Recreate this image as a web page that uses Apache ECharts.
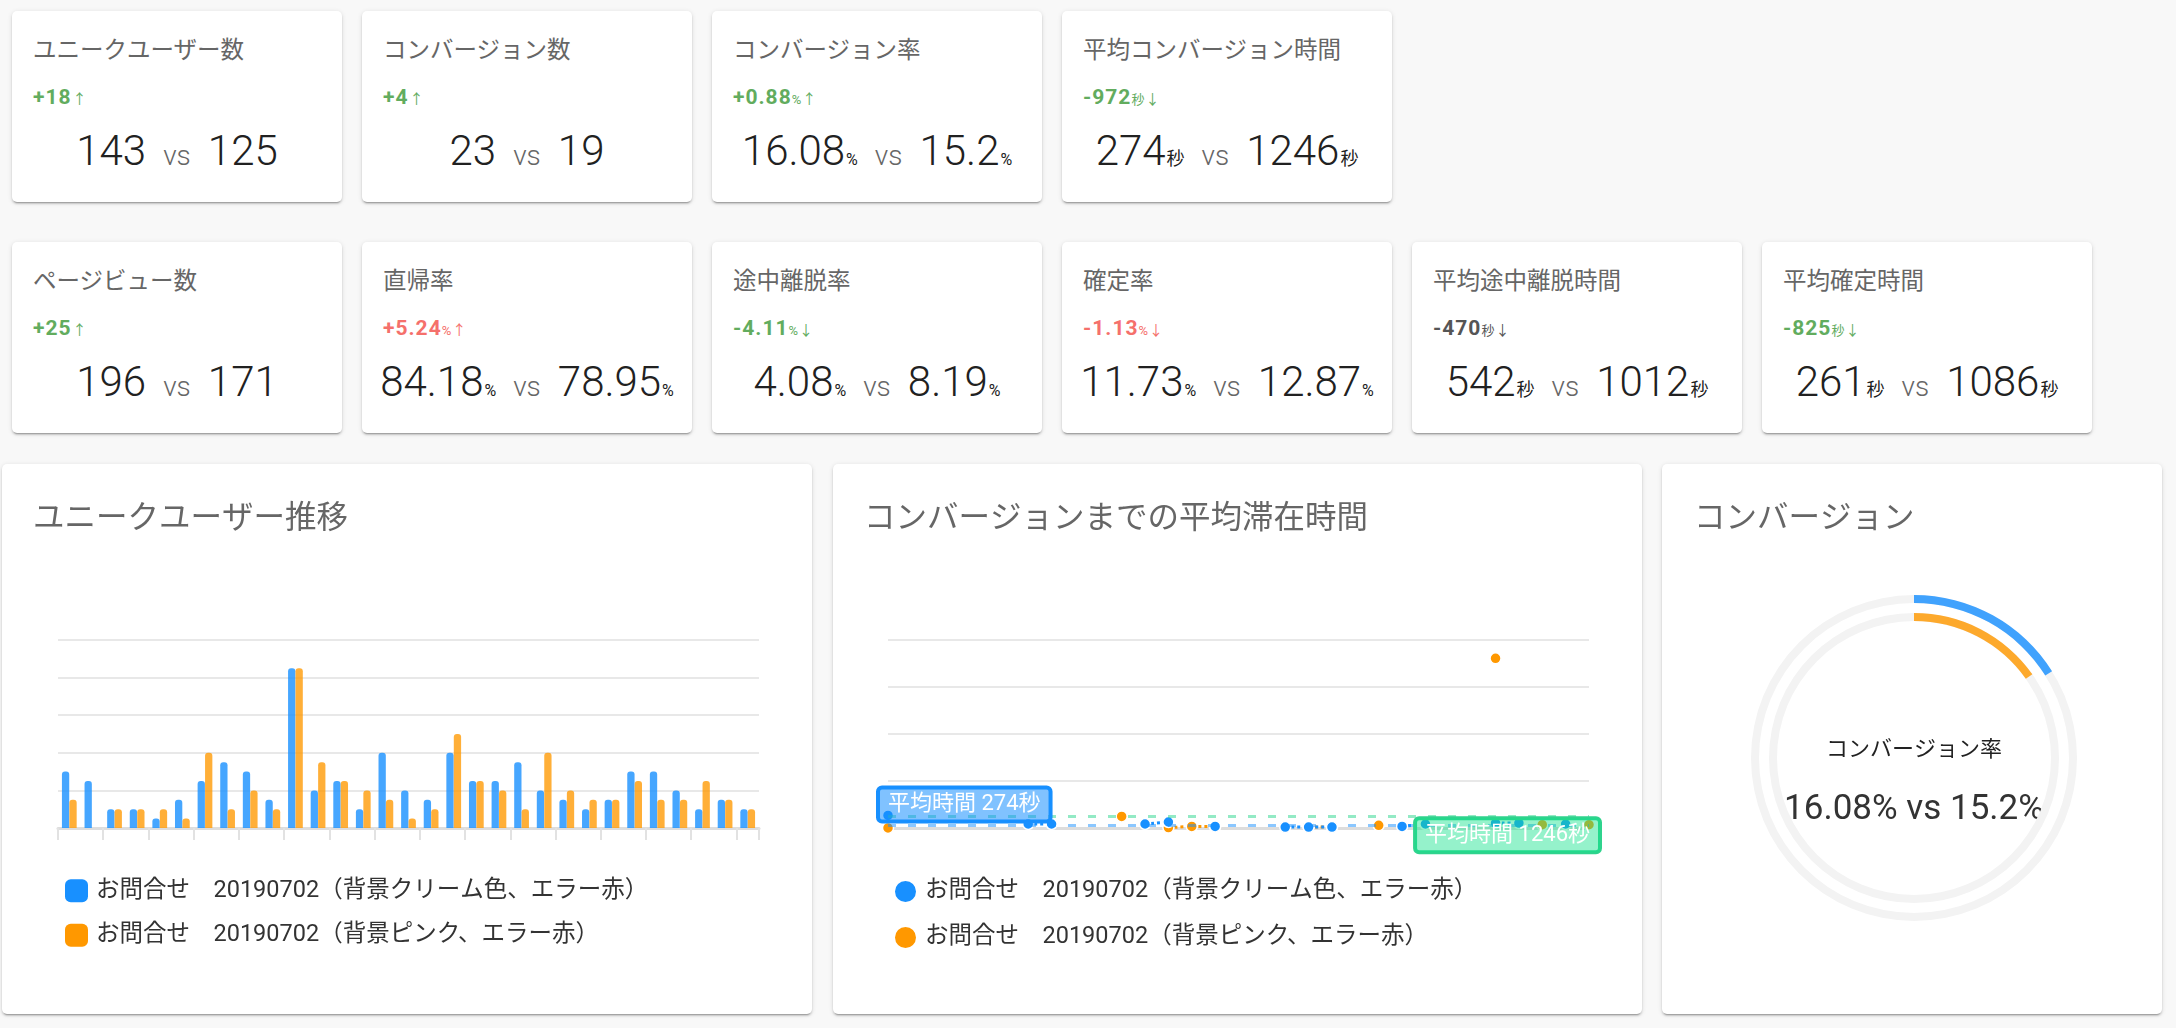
<!DOCTYPE html>
<html><head><meta charset="utf-8">
<script src="https://cdn.jsdelivr.net/npm/echarts/dist/echarts.min.js"></script>
<style>
html,body{margin:0;padding:0;background:#f8f8f8;width:2176px;height:1028px;overflow:hidden;font-family:Roboto,"Noto Sans CJK JP",sans-serif;}
.card{position:absolute;background:#fff;border-radius:5px;box-shadow:0 3px 1px -2px rgba(0,0,0,.2),0 2px 2px 0 rgba(0,0,0,.14),0 1px 5px 0 rgba(0,0,0,.12);}
.kpi{width:330px;height:191px;}
.kpi .t{position:absolute;left:21px;top:24px;font-size:23.5px;line-height:30px;color:#666;white-space:nowrap;}
.kpi .d{position:absolute;left:21px;top:74px;font-size:21px;line-height:24px;font-weight:700;letter-spacing:1px;white-space:nowrap;}
.kpi .d .u{font-size:13px;font-weight:400;letter-spacing:0;}
.kpi .d .a{font-size:14px;font-weight:400;letter-spacing:0;margin-left:1px;}
.good{color:#62ac5e}.bad{color:#f5706b}.neutral{color:#555}
.kpi .m{position:absolute;left:0;top:115px;width:100%;display:flex;justify-content:center;align-items:baseline;line-height:50px;white-space:nowrap;color:#212121;}
.kpi .m .n{font-size:42px;font-weight:300;}
.kpi .m .pu{font-size:16px;font-weight:400;margin-left:1px;}
.kpi .m .su{font-size:18px;font-weight:400;margin-left:1px;}
.kpi .m .vs{font-size:28px;font-weight:300;color:#666;margin:0 17px;}
.chart{position:absolute;left:0;top:0;width:100%;height:100%;}
</style></head>
<body>
<div id="kpis"></div>
<div class="card" style="left:2px;top:464px;width:810px;height:550px;"><div id="c1" class="chart"></div></div>
<div class="card" style="left:833px;top:464px;width:809px;height:550px;"><div id="c2" class="chart"></div></div>
<div class="card" style="left:1662px;top:464px;width:500px;height:550px;"><div id="c3" class="chart"></div></div>
<script>
// ---- KPI data ----
const kpiTitles = ['ユニークユーザー数','コンバージョン数','コンバージョン率','平均コンバージョン時間','ページビュー数','直帰率','途中離脱率','確定率','平均途中離脱時間','平均確定時間'];
const kpiCurrent = ['143','23','16.08','274','196','84.18','4.08','11.73','542','261'];
const kpiPrevious = ['125','19','15.2','1246','171','78.95','8.19','12.87','1012','1086'];
const kpiUnits = ['','','%','秒','','%','%','%','秒','秒'];
const kpiDeltas = ['+18','+4','+0.88','-972','+25','+5.24','-4.11','-1.13','-470','-825'];
const kpiTones = ['good','good','good','good','good','bad','good','bad','neutral','good'];

// ---- chart data ----
const seriesNames = ['お問合せ　20190702（背景クリーム色、エラー赤）','お問合せ　20190702（背景ピンク、エラー赤）'];
const days = ['7/1','7/2','7/3','7/4','7/5','7/6','7/7','7/8','7/9','7/10','7/11','7/12','7/13','7/14','7/15','7/16','7/17','7/18','7/19','7/20','7/21','7/22','7/23','7/24','7/25','7/26','7/27','7/28','7/29','7/30','7/31'];
const usersA = [6,5,2,2,1,3,5,7,6,3,17,4,5,2,8,4,3,8,5,5,7,4,3,2,3,6,6,4,2,3,2];
const usersB = [3,0,2,2,2,1,8,2,4,2,17,7,5,4,3,1,2,10,5,4,2,8,4,3,3,5,3,3,5,3,2];
const timeA = [1340,null,null,null,null,null,425,425,null,null,null,425,640,null,170,null,null,100,100,100,null,null,170,425,null,null,530,530,null,425,null];
const timeB = [10,null,null,null,null,null,null,null,null,null,1230,null,40,170,170,null,null,null,100,100,null,280,null,null,null,null,18050,null,350,null,350];
const avgTime = [274,1246];
const convRate = [16.08,15.2];

const FONT = 'Roboto, "Noto Sans CJK JP", sans-serif';
const BLUE = '#1890ff', ORANGE = '#ff9800';

// ---- KPI cards ----
const kpiBox = document.getElementById('kpis');
kpiTitles.forEach((t,i)=>{
  const row = i < 4 ? 0 : 1;
  const col = i < 4 ? i : i-4;
  const u = kpiUnits[i];
  const cls = u === '秒' ? 'su' : 'pu';
  const unitHtml = u ? `<span class="${cls}">${u}</span>` : '';
  const arrow = kpiDeltas[i].startsWith('-') ? '↓' : '↑';
  const el = document.createElement('div');
  el.className = 'card kpi';
  el.style.left = (12 + col*350) + 'px';
  el.style.top = (row === 0 ? 11 : 242) + 'px';
  el.innerHTML = `<div class="t">${t}</div>
    <div class="d ${kpiTones[i]}">${kpiDeltas[i]}${u?`<span class="u">${u}</span>`:''}<span class="a">${arrow}</span></div>
    <div class="m"><span class="n">${kpiCurrent[i]}</span>${unitHtml}<span class="vs">vs</span><span class="n">${kpiPrevious[i]}</span>${unitHtml}</div>`;
  kpiBox.appendChild(el);
});

const titleStyle = {fontSize:31.5, fontWeight:'normal', color:'#666', fontFamily:FONT};
const legendCommon = {orient:'vertical', top:410, itemWidth:23, itemHeight:23, itemGap:21,
  textStyle:{fontSize:23.5, color:'#333', fontFamily:FONT, padding:[0,0,0,3]}, selectedMode:false};

// ---- bar chart ----
const c1 = echarts.init(document.getElementById('c1'));
c1.setOption({
  animation:false,
  title:{text:'ユニークユーザー推移', left:31, top:40, padding:0, textStyle:titleStyle},
  legend:Object.assign({}, legendCommon, {left:58, icon:'roundRect',
    data:[{name:seriesNames[0], itemStyle:{color:BLUE, opacity:1}},{name:seriesNames[1], itemStyle:{color:ORANGE, opacity:1}}]}),
  grid:{left:56, top:176, width:701, height:188},
  xAxis:{type:'category', data:days, axisLabel:{show:false},
    axisLine:{lineStyle:{color:'#dddddd', width:3}},
    axisTick:{show:true, length:12, lineStyle:{color:'#e2e2e2', width:2}}},
  yAxis:{type:'value', min:0, max:20, interval:4, axisLabel:{show:false}, axisLine:{show:false}, axisTick:{show:false},
    splitLine:{lineStyle:{color:'#e0e0e0', width:1.5}}},
  series:[
    {name:seriesNames[0], type:'bar', data:usersA, barWidth:7.3, barGap:'2%', itemStyle:{color:BLUE, opacity:0.8, borderRadius:[3,3,0,0]}, silent:true},
    {name:seriesNames[1], type:'bar', data:usersB, barWidth:7.3, itemStyle:{color:ORANGE, opacity:0.78, borderRadius:[3,3,0,0]}, silent:true}
  ]
});

// ---- time chart ----
const c2 = echarts.init(document.getElementById('c2'));
function mlLabel(pos, bg, border, text, dist){
  return {show:true, position:pos, formatter:text, color:'#fff', fontSize:22, fontFamily:FONT,
    backgroundColor:bg, borderColor:border, borderWidth:2, borderRadius:4, padding:[6,10], distance:dist};
}
c2.setOption({
  animation:false,
  title:{text:'コンバージョンまでの平均滞在時間', left:31, top:40, padding:0, textStyle:titleStyle},
  legend:Object.assign({}, legendCommon, {left:55, icon:'circle',
    data:[{name:seriesNames[0], itemStyle:{color:BLUE}},{name:seriesNames[1], itemStyle:{color:ORANGE}}]}),
  grid:{left:55, top:176, width:701, height:188},
  xAxis:{type:'category', data:days, boundaryGap:false, axisLabel:{show:false},
    axisLine:{lineStyle:{color:'#dddddd', width:3}}, axisTick:{show:false}},
  yAxis:{type:'value', min:0, max:20000, interval:5000, axisLabel:{show:false}, axisLine:{show:false}, axisTick:{show:false},
    splitLine:{lineStyle:{color:'#e0e0e0', width:1.5}}},
  series:[
    {name:seriesNames[1], type:'line', data:timeB, connectNulls:false, symbol:'circle', symbolSize:11, z:2,
      itemStyle:{color:ORANGE, borderColor:'#fff', borderWidth:1.5}, lineStyle:{color:ORANGE, width:3, type:'dotted'}, silent:true,
      markLine:{silent:true, symbol:'none', z:5,
        lineStyle:{color:'rgba(40,214,140,0.5)', width:3, type:[8,12]},
        label:mlLabel('insideEndBottom','rgba(20,226,140,0.45)','#2fd38d','平均時間 '+avgTime[1]+'秒',[-11,2]),
        data:[{yAxis:avgTime[1]}]}},
    {name:seriesNames[0], type:'line', data:timeA, connectNulls:false, symbol:'circle', symbolSize:11, z:3,
      itemStyle:{color:BLUE, borderColor:'#fff', borderWidth:1.5}, lineStyle:{color:BLUE, width:3, type:'dotted'}, silent:true,
      markLine:{silent:true, symbol:'none', z:5,
        lineStyle:{color:'rgba(24,144,255,0.5)', width:3, type:[8,12]},
        label:mlLabel('insideStartTop','rgba(24,144,255,0.55)','#1890ff','平均時間 '+avgTime[0]+'秒',[-10,4]),
        data:[{yAxis:avgTime[0]}]}}
  ]
});

// ---- conversion rings ----
const c3 = echarts.init(document.getElementById('c3'));
function ring(r, val, color){
  return {type:'gauge', center:[252,294], radius:r, startAngle:90, endAngle:-270, min:0, max:100,
    pointer:{show:false}, axisTick:{show:false}, splitLine:{show:false}, axisLabel:{show:false},
    title:{show:false}, detail:{show:false}, silent:true,
    axisLine:{lineStyle:{width:8, color:[[1,'#f3f3f3']]}},
    progress:{show:true, width:8, roundCap:false, itemStyle:{color:color, opacity:0.82}},
    data:[{value:val}]};
}
c3.setOption({
  animation:false,
  title:{text:'コンバージョン', left:32, top:40, padding:0, textStyle:titleStyle},
  graphic:[
    {type:'text', x:252, y:286, style:{text:'コンバージョン率', fontSize:22, fill:'#222', align:'center', verticalAlign:'middle', fontFamily:FONT}},
    {type:'text', x:252, y:346, style:{text:convRate[0]+'% vs '+convRate[1]+'%', fontSize:35, fill:'#333', align:'center', verticalAlign:'middle', fontFamily:FONT}}
  ],
  series:[ring(163, convRate[0], BLUE), ring(145, convRate[1], ORANGE)]
});
</script>
</body></html>
